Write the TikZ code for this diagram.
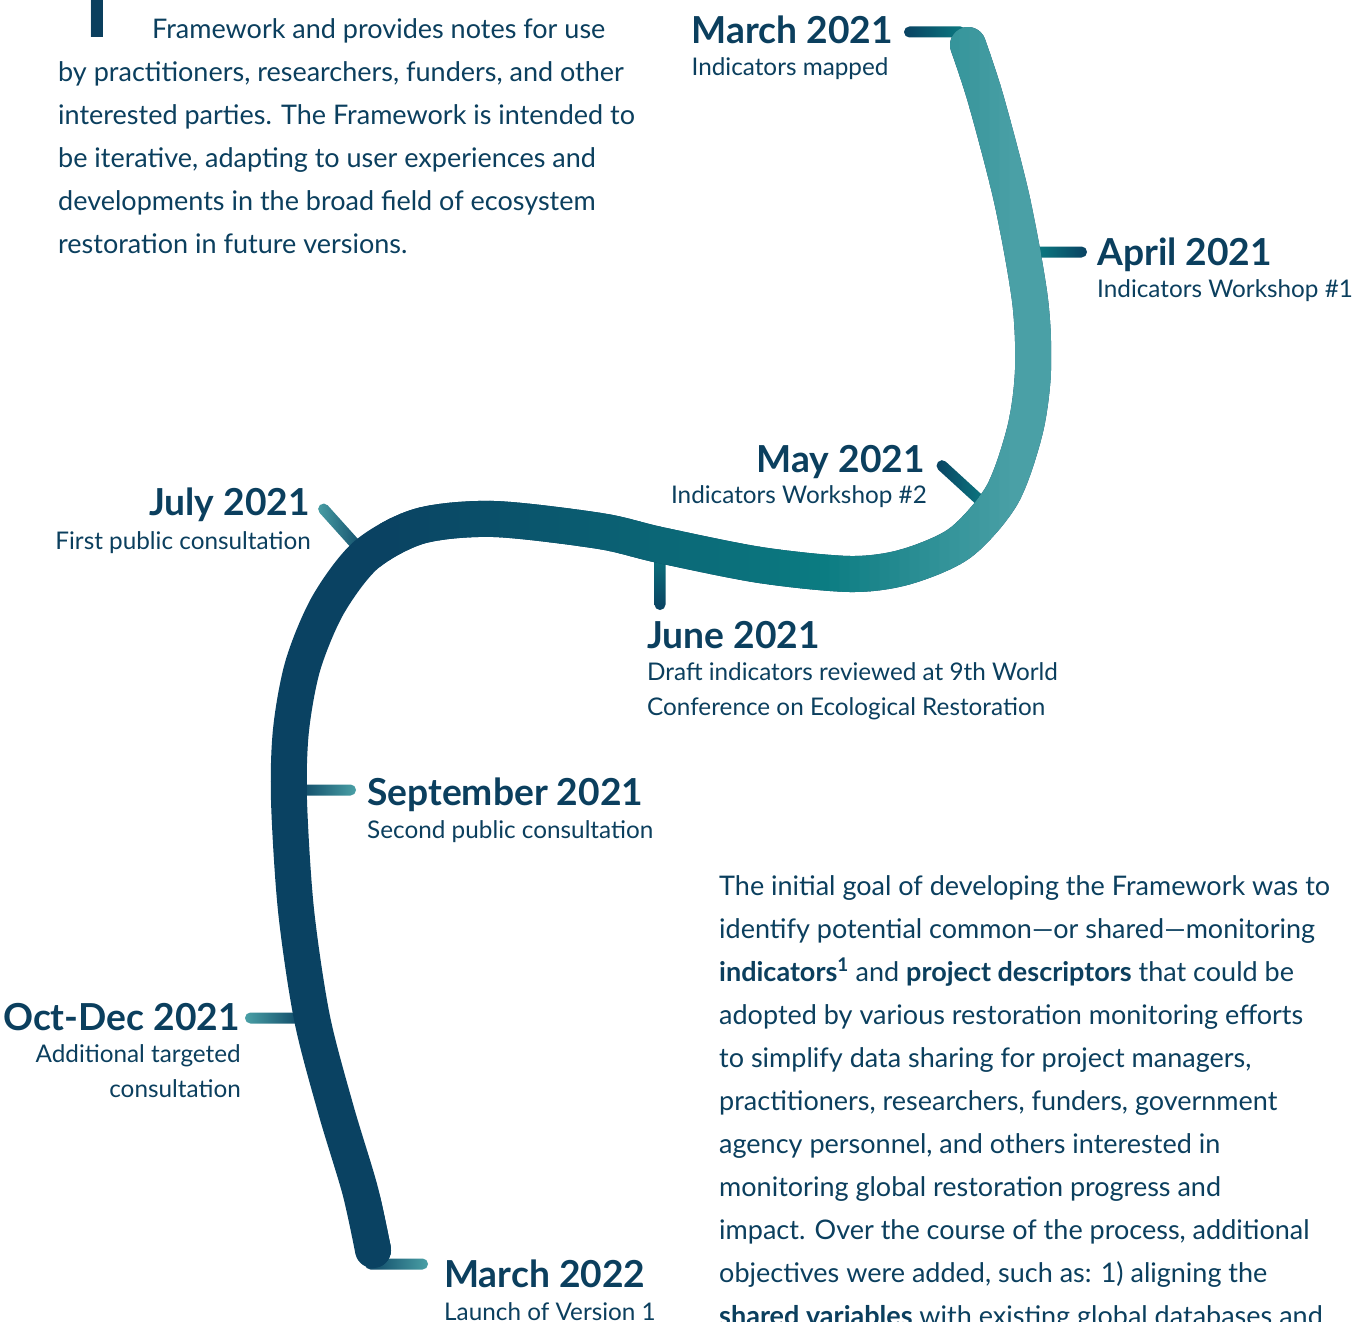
\documentclass[tikz,border=0pt]{standalone}
\usepackage{fontspec}
\setmainfont{Lato}
\usetikzlibrary{calc}

\definecolor{tlink}{HTML}{0B3F5E}
\definecolor{tlnavy}{HTML}{0A4262}
\definecolor{tlteal}{HTML}{0B7C82}
\definecolor{tllight}{HTML}{4AA0A6}

% rounded bar with its own gradient, from #1 to #2
\newcommand\tickbar[3]{%
  \shade[#3, rounded corners=5.4pt]
    ($(#1)!5.5pt!90:(#2)$) -- ($(#2)!5.5pt!-90:(#1)$) --
    ($(#2)!5.5pt!90:(#1)$) -- ($(#1)!5.5pt!-90:(#2)$) -- cycle;}

\begin{document}
\begin{tikzpicture}[x=1pt, y=-1pt,
  title/.style={font=\bfseries\fontsize{37.2}{42}\selectfont, text=tlink, inner sep=0pt},
  sub/.style={font=\fontsize{24.3}{34.5}\selectfont, text=tlink, inner sep=0pt},
  body/.style={font=\fontsize{27}{43}\selectfont, text=tlink, inner sep=0pt, align=left},
  spine/.style={line width=36pt, line cap=round},
]
\fill[white] (0,0) rectangle (1360,1322);
\useasboundingbox (0,0) rectangle (1360,1322);

% intro paragraph with drop cap (multi-line nodes sit on their last baseline)
\node[font=\fontsize{125}{125}\selectfont, text=tlink, inner sep=0pt, anchor=base] (dropcap) at (97.5,38) {T};
\node[body, anchor=base west] (intro) at (58,253) {%
  \hspace*{94pt}Framework and provides notes for use\\
  by practitioners, researchers, funders, and other\\
  interested parties. The Framework is intended to\\
  be iterative, adapting to user experiences and\\
  developments in the broad field of ecosystem\\
  restoration in future versions.};

% tick ends
\coordinate (mar21a) at (904,32);   \coordinate (mar21b) at (966,32);
\coordinate (apr21a) at (1035,252); \coordinate (apr21b) at (1087,252);
\coordinate (may21a) at (938,462);  \coordinate (may21b) at (985,505);
\coordinate (jun21a) at (660,545);  \coordinate (jun21b) at (660,610);
\coordinate (jul21a) at (320,505);  \coordinate (jul21b) at (365,555);
\coordinate (sep21a) at (295,790);  \coordinate (sep21b) at (356,790);
\coordinate (oct21a) at (245,1018); \coordinate (oct21b) at (305,1018);
\coordinate (mar22a) at (365,1264); \coordinate (mar22b) at (428,1264);

\tickbar{mar21a}{mar21b}{left color=tlnavy, right color=tlteal}
\tickbar{apr21a}{apr21b}{left color=tlteal, right color=tlnavy}
\tickbar{may21a}{may21b}{left color=tlnavy, right color=tlteal}
\tickbar{jun21a}{jun21b}{top color=tlteal, bottom color=tlnavy}
\tickbar{jul21a}{jul21b}{left color=tllight, middle color=tlteal, right color=tlnavy}
\tickbar{sep21a}{sep21b}{left color=tlnavy, middle color=tlteal, right color=tllight}
\tickbar{oct21a}{oct21b}{left color=tllight, middle color=tlteal, right color=tlnavy}
\tickbar{mar22a}{mar22b}{left color=tlnavy, middle color=tlteal, right color=tllight}

% the timeline itself
\path[save path=\spinepath] plot[smooth, tension=0.5] coordinates {
  (968,45) (986,100) (1012,200) (1030,300) (1033,370) (1025,430)
  (1002,495) (960,543) (905,567) (850,574) (760,565) (660,545)
  (600,531) (494,519) (420,526) (366,555) (328,605) (303,665)
  (291,730) (289,800) (296,910) (312,1018) (336,1110) (360,1190) (373,1250)};
\draw[spine, draw=tlnavy, use path=\spinepath];
\foreach \k in {0,...,70}{
  \pgfmathsetmacro\xa{380+10*\k}
  \pgfmathsetmacro\pa{min(100,max(0,(\xa-380)/4.4))}
  \pgfmathsetmacro\qa{min(100,max(0,(\xa-820)/1.9))}
  \colorlet{stripcol}{tllight!\qa!tlteal!\pa!tlnavy}
  \begin{scope}
    \clip (\xa-0.6,0) rectangle (\xa+10.6,1322);
    \draw[spine, draw=stripcol, use path=\spinepath];
  \end{scope}
}

% milestones
\node[title, anchor=base east] (mar21) at (893,44) {March 2021};
\node[sub, anchor=base west] (mar21s) at ([yshift=-32pt]mar21.base west) {Indicators mapped};

\node[title, anchor=base west] (apr21) at (1097,265) {April 2021};
\node[sub, anchor=base west] (apr21s) at ([yshift=-32pt]apr21.base west) {Indicators Workshop \#1};

\node[title, anchor=base east] (may21) at (925,472) {May 2021};
\node[sub, anchor=base east] (may21s) at ([yshift=-31pt,xshift=2pt]may21.base east) {Indicators Workshop \#2};

\node[title, anchor=base west] (jun21) at (647,648) {June 2021};
\node[sub, anchor=base west, align=left] (jun21s) at ([yshift=-67pt]jun21.base west)
  {Draft indicators reviewed at 9th World\\Conference on Ecological Restoration};

\node[title, anchor=base east] (jul21) at (310,515) {July 2021};
\node[sub, anchor=base east] (jul21s) at ([yshift=-34pt,xshift=1pt]jul21.base east) {First public consultation};

\node[title, anchor=base west] (sep21) at (367,805) {September 2021};
\node[sub, anchor=base west] (sep21s) at ([yshift=-33pt]sep21.base west) {Second public consultation};

\node[title, anchor=base east] (oct21) at (240,1030) {Oct-Dec 2021};
\node[sub, anchor=base east, align=right] (oct21s) at ([yshift=-67pt,xshift=1pt]oct21.base east)
  {Additional targeted\\consultation};

\node[title, anchor=base west] (mar22) at (444,1287) {March 2022};
\node[sub, anchor=base west] (mar22s) at ([yshift=-33pt]mar22.base west) {Launch of Version 1};

% goal paragraph
\node[body, anchor=base west] (goal) at (719,1325) {%
  The initial goal of developing the Framework was to\\
  identify potential common—or shared—monitoring\\
  \textbf{indicators}\textsuperscript{\bfseries 1} and \textbf{project descriptors} that could be\\
  adopted by various restoration monitoring efforts\\
  to simplify data sharing for project managers,\\
  practitioners, researchers, funders, government\\
  agency personnel, and others interested in\\
  monitoring global restoration progress and\\
  impact. Over the course of the process, additional\\
  objectives were added, such as: 1) aligning the\\
  \textbf{shared variables} with existing global databases and};
\end{tikzpicture}
\end{document}
